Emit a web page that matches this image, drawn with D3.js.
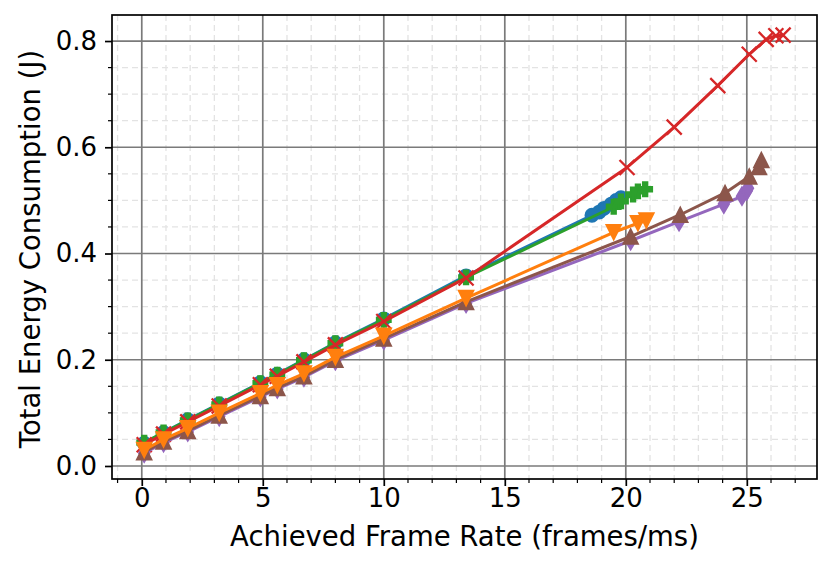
<!DOCTYPE html>
<html><head><meta charset="utf-8">
<script src="https://cdn.jsdelivr.net/npm/d3@7"></script>
<style>body{margin:0;background:#fff}svg{display:block}</style>
</head><body>
<svg id="c" width="831" height="566"></svg>
<script>
// ---- data ----
const lowX = [0.1, 0.9, 1.9, 3.2, 4.9, 5.6, 6.7, 8.0, 10.0, 13.4];
const blueX = lowX.concat([18.6, 18.9, 19.1, 19.4, 19.6, 19.8]);
const blueY = [0.043, 0.063, 0.087, 0.117, 0.157, 0.173, 0.200, 0.232, 0.277, 0.358, 0.472, 0.478, 0.485, 0.493, 0.500, 0.505];
const orangeX = lowX.concat([19.5, 20.5, 20.85]);
const orangeY = [0.030, 0.050, 0.071, 0.100, 0.137, 0.152, 0.174, 0.205, 0.245, 0.316, 0.440, 0.457, 0.462];
const greenX = lowX.concat([19.5, 19.8, 20.3, 20.5, 20.8]);
const greenY = [0.044, 0.063, 0.086, 0.116, 0.156, 0.172, 0.199, 0.231, 0.275, 0.355, 0.488, 0.498, 0.511, 0.517, 0.521];
const redX = lowX.concat([20.05, 22.0, 23.8, 25.1, 25.8, 26.2, 26.5]);
const redY = [0.040, 0.060, 0.083, 0.113, 0.153, 0.169, 0.196, 0.228, 0.272, 0.354, 0.562, 0.638, 0.716, 0.775, 0.803, 0.810, 0.811];
const purpleX = lowX.concat([20.2, 22.2, 24.05, 24.8, 25.0, 25.05]);
const purpleY = [0.024, 0.044, 0.064, 0.093, 0.130, 0.145, 0.167, 0.198, 0.237, 0.306, 0.424, 0.460, 0.493, 0.508, 0.518, 0.523];
const brownX = lowX.concat([20.2, 22.25, 24.1, 25.1, 25.5, 25.6]);
const brownY = [0.026, 0.046, 0.066, 0.095, 0.132, 0.147, 0.169, 0.200, 0.240, 0.309, 0.432, 0.473, 0.514, 0.545, 0.563, 0.576];
const xTicks = [0, 5, 10, 15, 20, 25];
const yTicks = [0.0, 0.2, 0.4, 0.6, 0.8];
const xLabel = "Achieved Frame Rate (frames/ms)";
const yLabel = "Total Energy Consumption (J)";

const series = [
  {x: blueX, y: blueY, color: "#1f77b4", marker: "o"},
  {x: greenX, y: greenY, color: "#2ca02c", marker: "P"},
  {x: redX, y: redY, color: "#d62728", marker: "x"},
  {x: purpleX, y: purpleY, color: "#9467bd", marker: "d"},
  {x: brownX, y: brownY, color: "#8c564b", marker: "^"},
  {x: orangeX, y: orangeY, color: "#ff7f0e", marker: "v"}
];

// ---- layout ----
const L = 112, R = 817, T = 15, B = 479;
const x = d3.scaleLinear().domain([-1.23, 27.9]).range([L, R]);
const y = d3.scaleLinear().domain([-0.0245, 0.849]).range([B, T]);
const svg = d3.select("#c");
const font = "DejaVu Sans, sans-serif";

svg.append("defs").append("clipPath").attr("id", "clip")
  .append("rect").attr("x", L).attr("y", T).attr("width", R - L).attr("height", B - T);

// minor grid
const xMinor = d3.range(-1, 28, 1).filter(v => v % 5 !== 0);
const yMinor = d3.range(0, 0.85, 0.05).map(v => +v.toFixed(2)).filter(v => Math.round(v * 100) % 20 !== 0);
const g = svg.append("g");
g.selectAll(".mx").data(xMinor).enter().append("line")
  .attr("x1", d => x(d)).attr("x2", d => x(d)).attr("y1", T).attr("y2", B)
  .attr("stroke", "#e3e3e3").attr("stroke-width", 1.3).attr("stroke-dasharray", "6,4");
g.selectAll(".my").data(yMinor).enter().append("line")
  .attr("y1", d => y(d)).attr("y2", d => y(d)).attr("x1", L).attr("x2", R)
  .attr("stroke", "#e3e3e3").attr("stroke-width", 1.3).attr("stroke-dasharray", "6,4");
// major grid
g.selectAll(".gx").data(xTicks).enter().append("line")
  .attr("x1", d => x(d)).attr("x2", d => x(d)).attr("y1", T).attr("y2", B)
  .attr("stroke", "#7a7a7a").attr("stroke-width", 1.7);
g.selectAll(".gy").data(yTicks).enter().append("line")
  .attr("y1", d => y(d)).attr("y2", d => y(d)).attr("x1", L).attr("x2", R)
  .attr("stroke", "#7a7a7a").attr("stroke-width", 1.7);

// markers
const S = 15;
function markerPath(m) {
  const h = S / 2;
  switch (m) {
    case "o": return d3.symbol(d3.symbolCircle, Math.PI * h * h * 0.78)();
    case "v": return `M${-h},${-h}L${h},${-h}L0,${h}Z`;
    case "^": return `M${-h},${h}L${h},${h}L0,${-h}Z`;
    case "P": { const a = h * 0.95, b = a / 3;
      return `M${-b},${-a}L${b},${-a}L${b},${-b}L${a},${-b}L${a},${b}L${b},${b}L${b},${a}L${-b},${a}L${-b},${b}L${-a},${b}L${-a},${-b}L${-b},${-b}Z`; }
    case "x": return `M${-h},${-h}L${h},${h}M${-h},${h}L${h},${-h}`;
    case "d": { const hh = h * 1.2, ww = hh * 0.6;
      return `M0,${-hh}L${ww},0L0,${hh}L${-ww},0Z`; }
  }
}

const plot = svg.append("g").attr("clip-path", "url(#clip)");
const line = d3.line().x(d => x(d[0])).y(d => y(d[1]));
series.forEach(s => {
  const pts = s.x.map((v, i) => [v, s.y[i]]);
  const sg = plot.append("g");
  sg.append("path").attr("d", line(pts)).attr("fill", "none")
    .attr("stroke", s.color).attr("stroke-width", 3).attr("stroke-linejoin", "round");
  const p = markerPath(s.marker);
  sg.selectAll("path.m").data(pts).enter().append("path").attr("class", "m")
    .attr("transform", d => `translate(${x(d[0])},${y(d[1])})`)
    .attr("d", p)
    .attr("fill", s.marker === "x" ? "none" : s.color)
    .attr("stroke", s.color)
    .attr("stroke-width", s.marker === "x" ? 2.3 : 1.6)
    .attr("stroke-linejoin", "miter");
});

// frame
svg.append("rect").attr("x", L).attr("y", T).attr("width", R - L).attr("height", B - T)
  .attr("fill", "none").attr("stroke", "#000").attr("stroke-width", 1.7);

// axes
const xAxis = svg.append("g").attr("transform", `translate(0,${B})`)
  .call(d3.axisBottom(x).tickValues(xTicks).tickFormat(d3.format("d")).tickSize(7).tickPadding(3));
const yAxis = svg.append("g").attr("transform", `translate(${L},0)`)
  .call(d3.axisLeft(y).tickValues(yTicks).tickFormat(d3.format(".1f")).tickSize(7).tickPadding(8));
[xAxis, yAxis].forEach(a => {
  a.select(".domain").remove();
  a.selectAll(".tick line").attr("stroke", "#000").attr("stroke-width", 1.7);
  a.selectAll(".tick text").attr("fill", "#000").style("font-family", font).style("font-size", "26px");
});
svg.append("g").selectAll("line").data(xMinor).enter().append("line")
  .attr("x1", d => x(d)).attr("x2", d => x(d)).attr("y1", B).attr("y2", B + 4)
  .attr("stroke", "#000").attr("stroke-width", 1.2);
svg.append("g").selectAll("line").data(yMinor).enter().append("line")
  .attr("y1", d => y(d)).attr("y2", d => y(d)).attr("x1", L).attr("x2", L - 4)
  .attr("stroke", "#000").attr("stroke-width", 1.2);

// labels
svg.append("text").attr("x", (L + R) / 2).attr("y", 546).attr("text-anchor", "middle")
  .style("font-family", font).style("font-size", "27.5px").text(xLabel);
svg.append("text").attr("transform", `translate(40,${(T + B) / 2 + 2}) rotate(-90)`).attr("text-anchor", "middle")
  .style("font-family", font).style("font-size", "27.5px").text(yLabel);
</script>
</body></html>
